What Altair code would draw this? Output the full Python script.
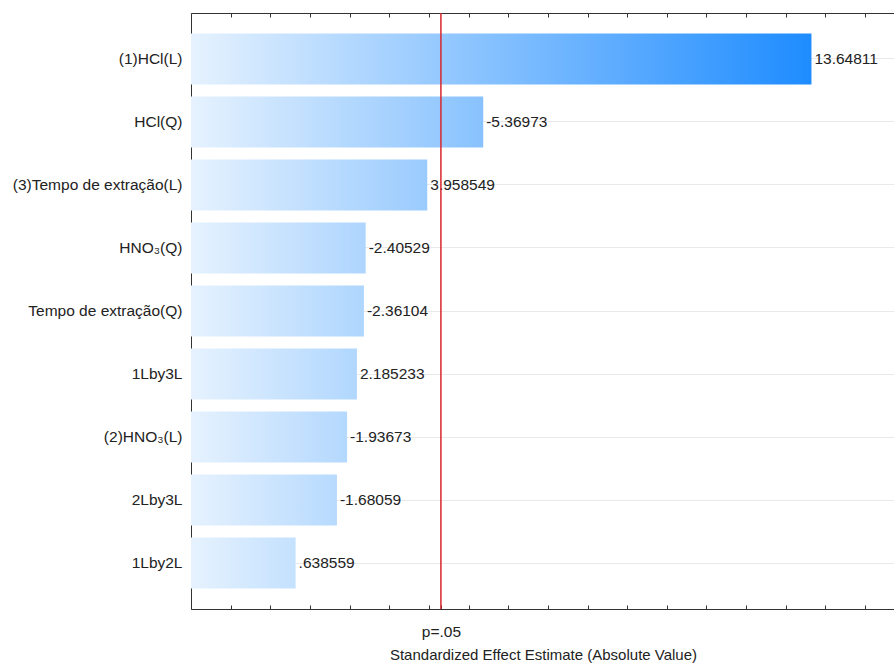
import altair as alt
import pandas as pd

# ---- data ----
factors = [
    "(1)HCl(L)",
    "HCl(Q)",
    "(3)Tempo de extração(L)",
    "HNO₃(Q)",
    "Tempo de extração(Q)",
    "1Lby3L",
    "(2)HNO₃(L)",
    "2Lby3L",
    "1Lby2L",
]
effects = [13.64811, -5.36973, 3.958549, -2.40529, -2.36104, 2.185233, -1.93673, -1.68059, 0.638559]
effect_labels = ["13.64811", "-5.36973", "3.958549", "-2.40529", "-2.36104",
                 "2.185233", "-1.93673", "-1.68059", ".638559"]
p_critical = 4.303
p_label = "p=.05"
x_ticks = list(range(-2, 16))
x_domain = [-2, 15.73]
x_title = "Standardized Effect Estimate (Absolute Value)"

# ---- styling ----
FONT = "Liberation Sans"
FS = 15.5
C_START = (230, 242, 254)
C_END = (30, 140, 255)
AXIS_COLOR = "#333333"
TEXT_COLOR = "#222222"

df = pd.DataFrame({
    "factor": factors,
    "effect": effects,
    "abs_effect": [abs(v) for v in effects],
    "label": effect_labels,
})
p_df = pd.DataFrame({"p": [p_critical]})

vmax = max(abs(v) for v in effects)


def grad_color(v):
    t = (v - x_domain[0]) / (vmax - x_domain[0])
    rgb = [round(a + (b - a) * t) for a, b in zip(C_START, C_END)]
    return "#%02x%02x%02x" % tuple(rgb)


xscale = alt.Scale(domain=x_domain, nice=False, zero=False)
yscale = alt.Scale(domain=factors, paddingInner=0.19, paddingOuter=0.324, align=0.5)

y_axis = alt.Axis(
    title=None,
    labelFont=FONT,
    labelFontSize=FS,
    labelColor=TEXT_COLOR,
    labelPadding=13,
    tickSize=alt.ExprRef(expr="-4"),
    tickColor=AXIS_COLOR,
    domainColor=AXIS_COLOR,
    grid=True,
    gridColor="#e9e9e9",
)

start_hex = "#%02x%02x%02x" % C_START

layers = []
for i, (f, v) in enumerate(zip(factors, effects)):
    layers.append(
        alt.Chart(df)
        .transform_filter(alt.datum.factor == f)
        .mark_bar(
            color=alt.Gradient(
                gradient="linear",
                stops=[
                    alt.GradientStop(color=start_hex, offset=0),
                    alt.GradientStop(color=grad_color(abs(v)), offset=1),
                ],
                x1=0, x2=1, y1=0, y2=0,
            )
        )
        .encode(
            x=alt.X("abs_effect:Q", scale=xscale, axis=None),
            x2=alt.datum(x_domain[0]),
            y=alt.Y("factor:N", sort=factors, scale=yscale, axis=y_axis if i == 0 else None),
        )
    )

text_layer = (
    alt.Chart(df)
    .mark_text(align="left", baseline="middle", dx=3, font=FONT, fontSize=FS, color=TEXT_COLOR)
    .encode(
        x=alt.X(
            "abs_effect:Q",
            scale=xscale,
            axis=alt.Axis(
                orient="top",
                values=x_ticks,
                labels=False,
                title=None,
                tickSize=alt.ExprRef(expr="-4"),
                tickColor=AXIS_COLOR,
                domainColor=AXIS_COLOR,
                grid=False,
            ),
        ),
        y=alt.Y("factor:N", sort=factors, scale=yscale, axis=None),
        text="label:N",
    )
)

rule_layer = (
    alt.Chart(p_df)
    .mark_rule(color="#d8262c", strokeWidth=1.5)
    .encode(
        x=alt.X(
            "p:Q",
            scale=xscale,
            axis=alt.Axis(
                orient="bottom",
                values=x_ticks + [p_critical],
                labelExpr=f"datum.value == {p_critical} ? '{p_label}' : ''",
                labelOverlap=False,
                labelFlush=False,
                labelFont=FONT,
                labelFontSize=FS,
                labelColor=TEXT_COLOR,
                labelBaseline="alphabetic",
                labelPadding=31,
                tickSize=alt.ExprRef(expr="-4"),
                tickColor=AXIS_COLOR,
                domainColor=AXIS_COLOR,
                grid=False,
                title=x_title,
                titleFont=FONT,
                titleFontSize=15,
                titleFontWeight="normal",
                titleColor=TEXT_COLOR,
                titleX=352,
                titleY=50.5,
                titleAlign="center",
                titleBaseline="alphabetic",
            ),
        )
    )
)

chart = (
    alt.layer(*layers, text_layer, rule_layer)
    .resolve_axis(x="independent", y="independent")
    .properties(
        width=703,
        height=596,
        autosize=alt.AutoSizeParams(type="none"),
        padding={"left": 191, "top": 13, "right": 0, "bottom": 55},
        background="white",
    )
    .configure_view(stroke=None)
)

chart.save("out.html", embed_options={"renderer": "svg", "actions": False})
